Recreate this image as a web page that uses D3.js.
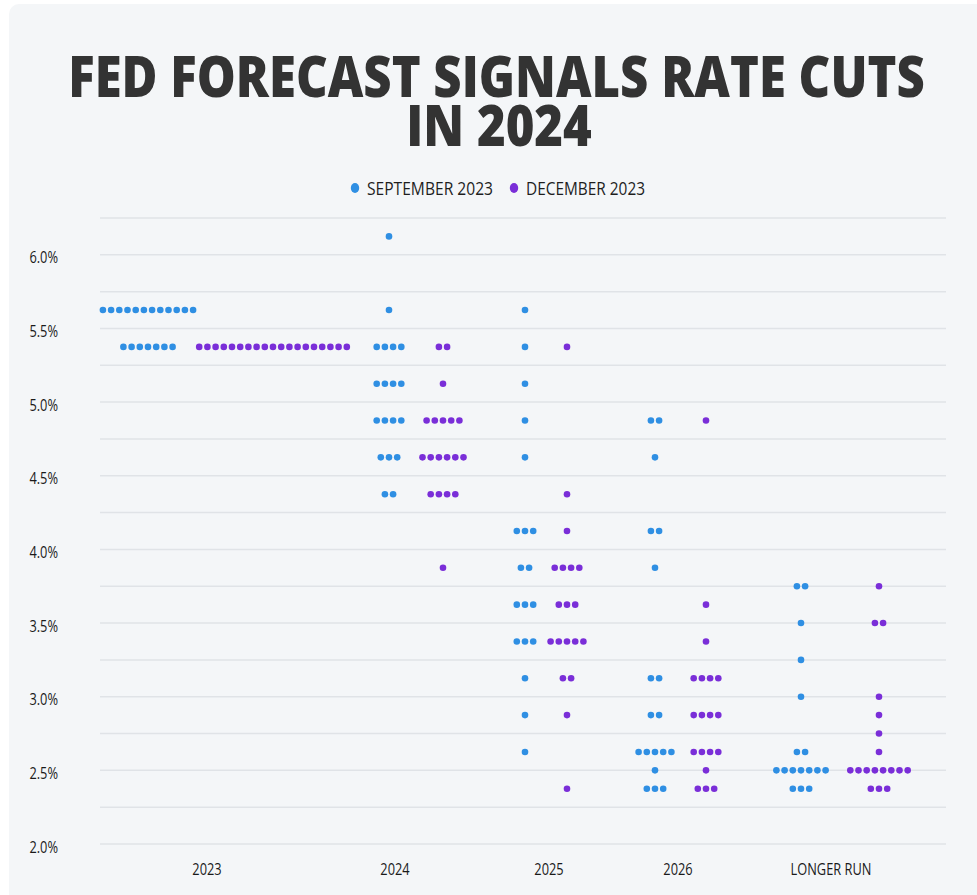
<!DOCTYPE html>
<html>
<head>
<meta charset="utf-8">
<script src="https://cdn.jsdelivr.net/npm/d3@7/dist/d3.min.js"></script>
<style>
  html, body { margin: 0; padding: 0; background: #ffffff; }
  svg { display: block; }
  text { font-family: "Open Sans", "Noto Sans", sans-serif; }
</style>
</head>
<body>
<div id="chart"></div>
<script>
// ---------- DATA ----------
const titleLines = ["FED FORECAST SIGNALS RATE CUTS", "IN 2024"];
const categories = ["2023", "2024", "2025", "2026", "LONGER RUN"];
const seriesNames = ["SEPTEMBER 2023", "DECEMBER 2023"];
const seriesKeys = ["sep", "dec"];
const rateTicks = [2.0, 2.5, 3.0, 3.5, 4.0, 4.5, 5.0, 5.5, 6.0];
const rateTickLabels = ["2.0%", "2.5%", "3.0%", "3.5%", "4.0%", "4.5%", "5.0%", "5.5%", "6.0%"];
const gridRates = [2.0, 2.25, 2.5, 2.75, 3.0, 3.25, 3.5, 3.75, 4.0, 4.25, 4.5, 4.75, 5.0, 5.25, 5.5, 5.75, 6.0, 6.25];

// [category, rate (%), number of participants]
const septemberDots = [
  ["2023", 5.625, 12], ["2023", 5.375, 7],
  ["2024", 6.125, 1], ["2024", 5.625, 1], ["2024", 5.375, 4], ["2024", 5.125, 4],
  ["2024", 4.875, 4], ["2024", 4.625, 3], ["2024", 4.375, 2],
  ["2025", 5.625, 1], ["2025", 5.375, 1], ["2025", 5.125, 1], ["2025", 4.875, 1],
  ["2025", 4.625, 1], ["2025", 4.125, 3], ["2025", 3.875, 2], ["2025", 3.625, 3],
  ["2025", 3.375, 3], ["2025", 3.125, 1], ["2025", 2.875, 1], ["2025", 2.625, 1],
  ["2026", 4.875, 2], ["2026", 4.625, 1], ["2026", 4.125, 2], ["2026", 3.875, 1],
  ["2026", 3.125, 2], ["2026", 2.875, 2], ["2026", 2.625, 5], ["2026", 2.5, 1], ["2026", 2.375, 3],
  ["LONGER RUN", 3.75, 2], ["LONGER RUN", 3.5, 1], ["LONGER RUN", 3.25, 1], ["LONGER RUN", 3.0, 1],
  ["LONGER RUN", 2.625, 2], ["LONGER RUN", 2.5, 7], ["LONGER RUN", 2.375, 3]
];
const decemberDots = [
  ["2023", 5.375, 19],
  ["2024", 5.375, 2], ["2024", 5.125, 1], ["2024", 4.875, 5], ["2024", 4.625, 6],
  ["2024", 4.375, 4], ["2024", 3.875, 1],
  ["2025", 5.375, 1], ["2025", 4.375, 1], ["2025", 4.125, 1], ["2025", 3.875, 4],
  ["2025", 3.625, 3], ["2025", 3.375, 5], ["2025", 3.125, 2], ["2025", 2.875, 1], ["2025", 2.375, 1],
  ["2026", 4.875, 1], ["2026", 3.625, 1], ["2026", 3.375, 1], ["2026", 3.125, 4],
  ["2026", 2.875, 4], ["2026", 2.625, 4], ["2026", 2.5, 1], ["2026", 2.375, 3],
  ["LONGER RUN", 3.75, 1], ["LONGER RUN", 3.5, 2], ["LONGER RUN", 3.0, 1], ["LONGER RUN", 2.875, 1],
  ["LONGER RUN", 2.75, 1], ["LONGER RUN", 2.625, 1], ["LONGER RUN", 2.5, 8], ["LONGER RUN", 2.375, 3]
];

// ---------- LAYOUT ----------
const W = 977, H = 895;
const colors = { sep: "#2f8fe3", dec: "#7a2ed8" };
const dotR = 3.3, dotStep = 8.2;

const svg = d3.select("#chart").append("svg").attr("width", W).attr("height", H);

svg.append("rect").attr("x", 9).attr("y", 4).attr("width", W + 20).attr("height", H + 20)
  .attr("rx", 10).attr("fill", "#f4f6f8");

const y = d3.scaleLinear().domain([2.0, 6.25]).range([844, 218]);

// column centres of each category/series pair
const colKey = (cat, s) => cat + "|" + s;
const xCol = d3.scaleOrdinal()
  .domain(categories.flatMap(c => seriesKeys.map(s => colKey(c, s))))
  .range([148, 273, 389, 443, 525, 567, 655, 706, 801, 879]);
// category label positions
const xLabel = d3.scaleOrdinal().domain(categories).range([207, 395, 549, 678, 831]);

function condense(sel, factor) {
  sel.each(function () {
    const len = this.getComputedTextLength();
    d3.select(this).attr("textLength", len * factor).attr("lengthAdjust", "spacingAndGlyphs");
  });
}

// Title: one text element, two lines, squeezed horizontally to the reference width
const titleG = svg.append("g");
const title = titleG.append("text").attr("text-anchor", "middle")
  .attr("font-size", 56).attr("font-weight", 800).attr("fill", "#333333");
const tl1 = title.append("tspan").attr("x", 0).attr("y", 97).text(titleLines[0]);
const len1 = tl1.node().getComputedTextLength();
const sx = 857 / len1;
title.append("tspan").attr("x", 2.5 / sx).attr("y", 146).text(titleLines[1]);
titleG.attr("transform", `translate(496.5,0) scale(${sx},1)`);

// Legend
const legendX = [355, 514];
const legendW = [126, 119];
const legend = svg.append("g");
seriesKeys.forEach((k, i) => {
  legend.append("ellipse").attr("cx", legendX[i]).attr("cy", 188).attr("rx", 4.2).attr("ry", 5)
    .attr("fill", colors[k]);
  const lt = legend.append("text").attr("x", legendX[i] + 12).attr("y", 195)
    .attr("font-size", 18).attr("fill", "#1e1e1e").text(seriesNames[i]);
  lt.attr("textLength", legendW[i]).attr("lengthAdjust", "spacingAndGlyphs");
});

// Grid lines
svg.append("g").selectAll("line").data(gridRates).join("line")
  .attr("x1", 100).attr("x2", 946)
  .attr("y1", d => y(d)).attr("y2", d => y(d))
  .attr("stroke", "#e0e3e7").attr("stroke-width", 1.5);

// Y axis labels
const yAxis = d3.axisLeft(y).tickValues(rateTicks)
  .tickFormat((d, i) => rateTickLabels[i]).tickSize(0).tickPadding(0);
const yG = svg.append("g").attr("transform", "translate(58,3)").call(yAxis);
yG.select(".domain").remove();
yG.selectAll("text").attr("font-size", 16).attr("fill", "#1a1a1a")
  .attr("font-family", "'Open Sans', sans-serif");
condense(yG.selectAll("text"), 0.8);

// X axis labels
const xG = svg.append("g");
xG.selectAll("text").data(categories).join("text")
  .attr("x", d => xLabel(d)).attr("y", 875).attr("text-anchor", "middle")
  .attr("font-size", 16).attr("fill", "#1a1a1a").text(d => d);
condense(xG.selectAll("text"), 0.8);

// Dots
function expand(rows, key) {
  const out = [];
  rows.forEach(([cat, rate, n]) => {
    for (let i = 0; i < n; i++) {
      out.push({ cat, rate, key, off: i - (n - 1) / 2 });
    }
  });
  return out;
}
const allDots = expand(septemberDots, "sep").concat(expand(decemberDots, "dec"));
svg.append("g").selectAll("circle").data(allDots).join("circle")
  .attr("cx", d => xCol(colKey(d.cat, d.key)) + d.off * dotStep)
  .attr("cy", d => y(d.rate))
  .attr("r", dotR)
  .attr("fill", d => colors[d.key]);
</script>
</body>
</html>
